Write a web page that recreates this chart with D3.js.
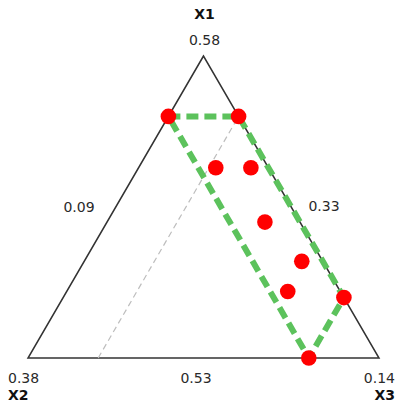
<!DOCTYPE html>
<html>
<head>
<meta charset="utf-8">
<script src="https://cdn.jsdelivr.net/npm/d3@7"></script>
<style>
  body { margin: 0; background: #fff; }
  text { font-family: "DejaVu Sans", sans-serif; fill: #2a2a2a; font-size: 14px; }
  .comp { font-weight: bold; fill: #111; }
</style>
</head>
<body>
<div id="chart"></div>
<script>
// component names, low bounds and vertex (high) values
const components = ["X1", "X2", "X3"];
const lowBounds = [0.53, 0.33, 0.09];
const highBounds = [0.58, 0.38, 0.14];

// design points (actual component values)
const x1Vals = [0.570, 0.570, 0.5615, 0.5615, 0.5525, 0.546, 0.541, 0.540, 0.530];
const x2Vals = [0.340, 0.330, 0.3375, 0.3325, 0.335, 0.333, 0.3375, 0.330, 0.340];
const x3Vals = [0.090, 0.100, 0.101, 0.106, 0.1125, 0.121, 0.1215, 0.130, 0.130];

// constrained region outline (indexes into the design points)
const regionIdx = [0, 1, 7, 8];

// constraint line: X3 = 0.10, from X1 low edge to right edge
const constraintLine = [
  { x1: 0.53, x2: 0.37, x3: 0.10 },
  { x1: 0.57, x2: 0.33, x3: 0.10 }
];

const W = 397, H = 403;
const triLeft = 28, triRight = 379, triBottom = 358, triTop = 56;

const svg = d3.select("#chart").append("svg")
  .attr("width", W)
  .attr("height", H);

// actual -> pseudo component scales
const p1 = d3.scaleLinear().domain([lowBounds[0], highBounds[0]]).range([0, 1]);
const p3 = d3.scaleLinear().domain([lowBounds[2], highBounds[2]]).range([0, 1]);

const xScale = d3.scaleLinear().domain([0, 1]).range([triLeft, triRight]);
const yScale = d3.scaleLinear().domain([0, 1]).range([triBottom, triTop]);

function project(a1, a2, a3) {
  const u1 = p1(a1), u3 = p3(a3);
  return [xScale(u3 + u1 / 2), yScale(u1)];
}

const points = x1Vals.map((v, i) => ({ x1: v, x2: x2Vals[i], x3: x3Vals[i] }));
points.forEach(d => { [d.px, d.py] = project(d.x1, d.x2, d.x3); });

// triangle
const verts = [
  project(highBounds[0], lowBounds[1], lowBounds[2]),
  project(lowBounds[0], highBounds[1], lowBounds[2]),
  project(lowBounds[0], lowBounds[1], highBounds[2])
];

svg.append("path")
  .attr("d", d3.line()(verts) + "Z")
  .attr("fill", "none")
  .attr("stroke", "#333")
  .attr("stroke-width", 1.5)
  .attr("stroke-linejoin", "miter");

// constraint line
svg.append("path")
  .attr("d", d3.line()(constraintLine.map(d => project(d.x1, d.x2, d.x3))))
  .attr("fill", "none")
  .attr("stroke", "#bdbdbd")
  .attr("stroke-width", 1.2)
  .attr("stroke-dasharray", "6,4");

// region outline
svg.append("path")
  .attr("d", d3.line()(regionIdx.map(i => [points[i].px, points[i].py])) + "Z")
  .attr("fill", "none")
  .attr("stroke", "#5cc25c")
  .attr("stroke-width", 6)
  .attr("stroke-dasharray", "12,6");

// design points
svg.selectAll(".dot")
  .data(points)
  .enter().append("circle")
  .attr("class", "dot")
  .attr("cx", d => d.px)
  .attr("cy", d => d.py)
  .attr("r", 7.8)
  .attr("fill", "#ff0000");

// vertex labels
svg.append("text").attr("class", "comp")
  .attr("x", verts[0][0] + 1).attr("y", 19)
  .attr("text-anchor", "middle")
  .text(components[0]);
svg.append("text")
  .attr("x", verts[0][0] + 1).attr("y", 45)
  .attr("text-anchor", "middle")
  .text(highBounds[0].toFixed(2));

svg.append("text")
  .attr("x", 8).attr("y", 383)
  .text(highBounds[1].toFixed(2));
svg.append("text").attr("class", "comp")
  .attr("x", 8).attr("y", 400)
  .text(components[1]);

svg.append("text")
  .attr("x", 395).attr("y", 383)
  .attr("text-anchor", "end")
  .text(highBounds[2].toFixed(2));
svg.append("text").attr("class", "comp")
  .attr("x", 395).attr("y", 400)
  .attr("text-anchor", "end")
  .text(components[2]);

// edge labels (low bounds)
svg.append("text")
  .attr("x", 79).attr("y", 212)
  .attr("text-anchor", "middle")
  .text(lowBounds[2].toFixed(2));
svg.append("text")
  .attr("x", 324).attr("y", 211)
  .attr("text-anchor", "middle")
  .text(lowBounds[1].toFixed(2));
svg.append("text")
  .attr("x", 196).attr("y", 383)
  .attr("text-anchor", "middle")
  .text(lowBounds[0].toFixed(2));
</script>
</body>
</html>
